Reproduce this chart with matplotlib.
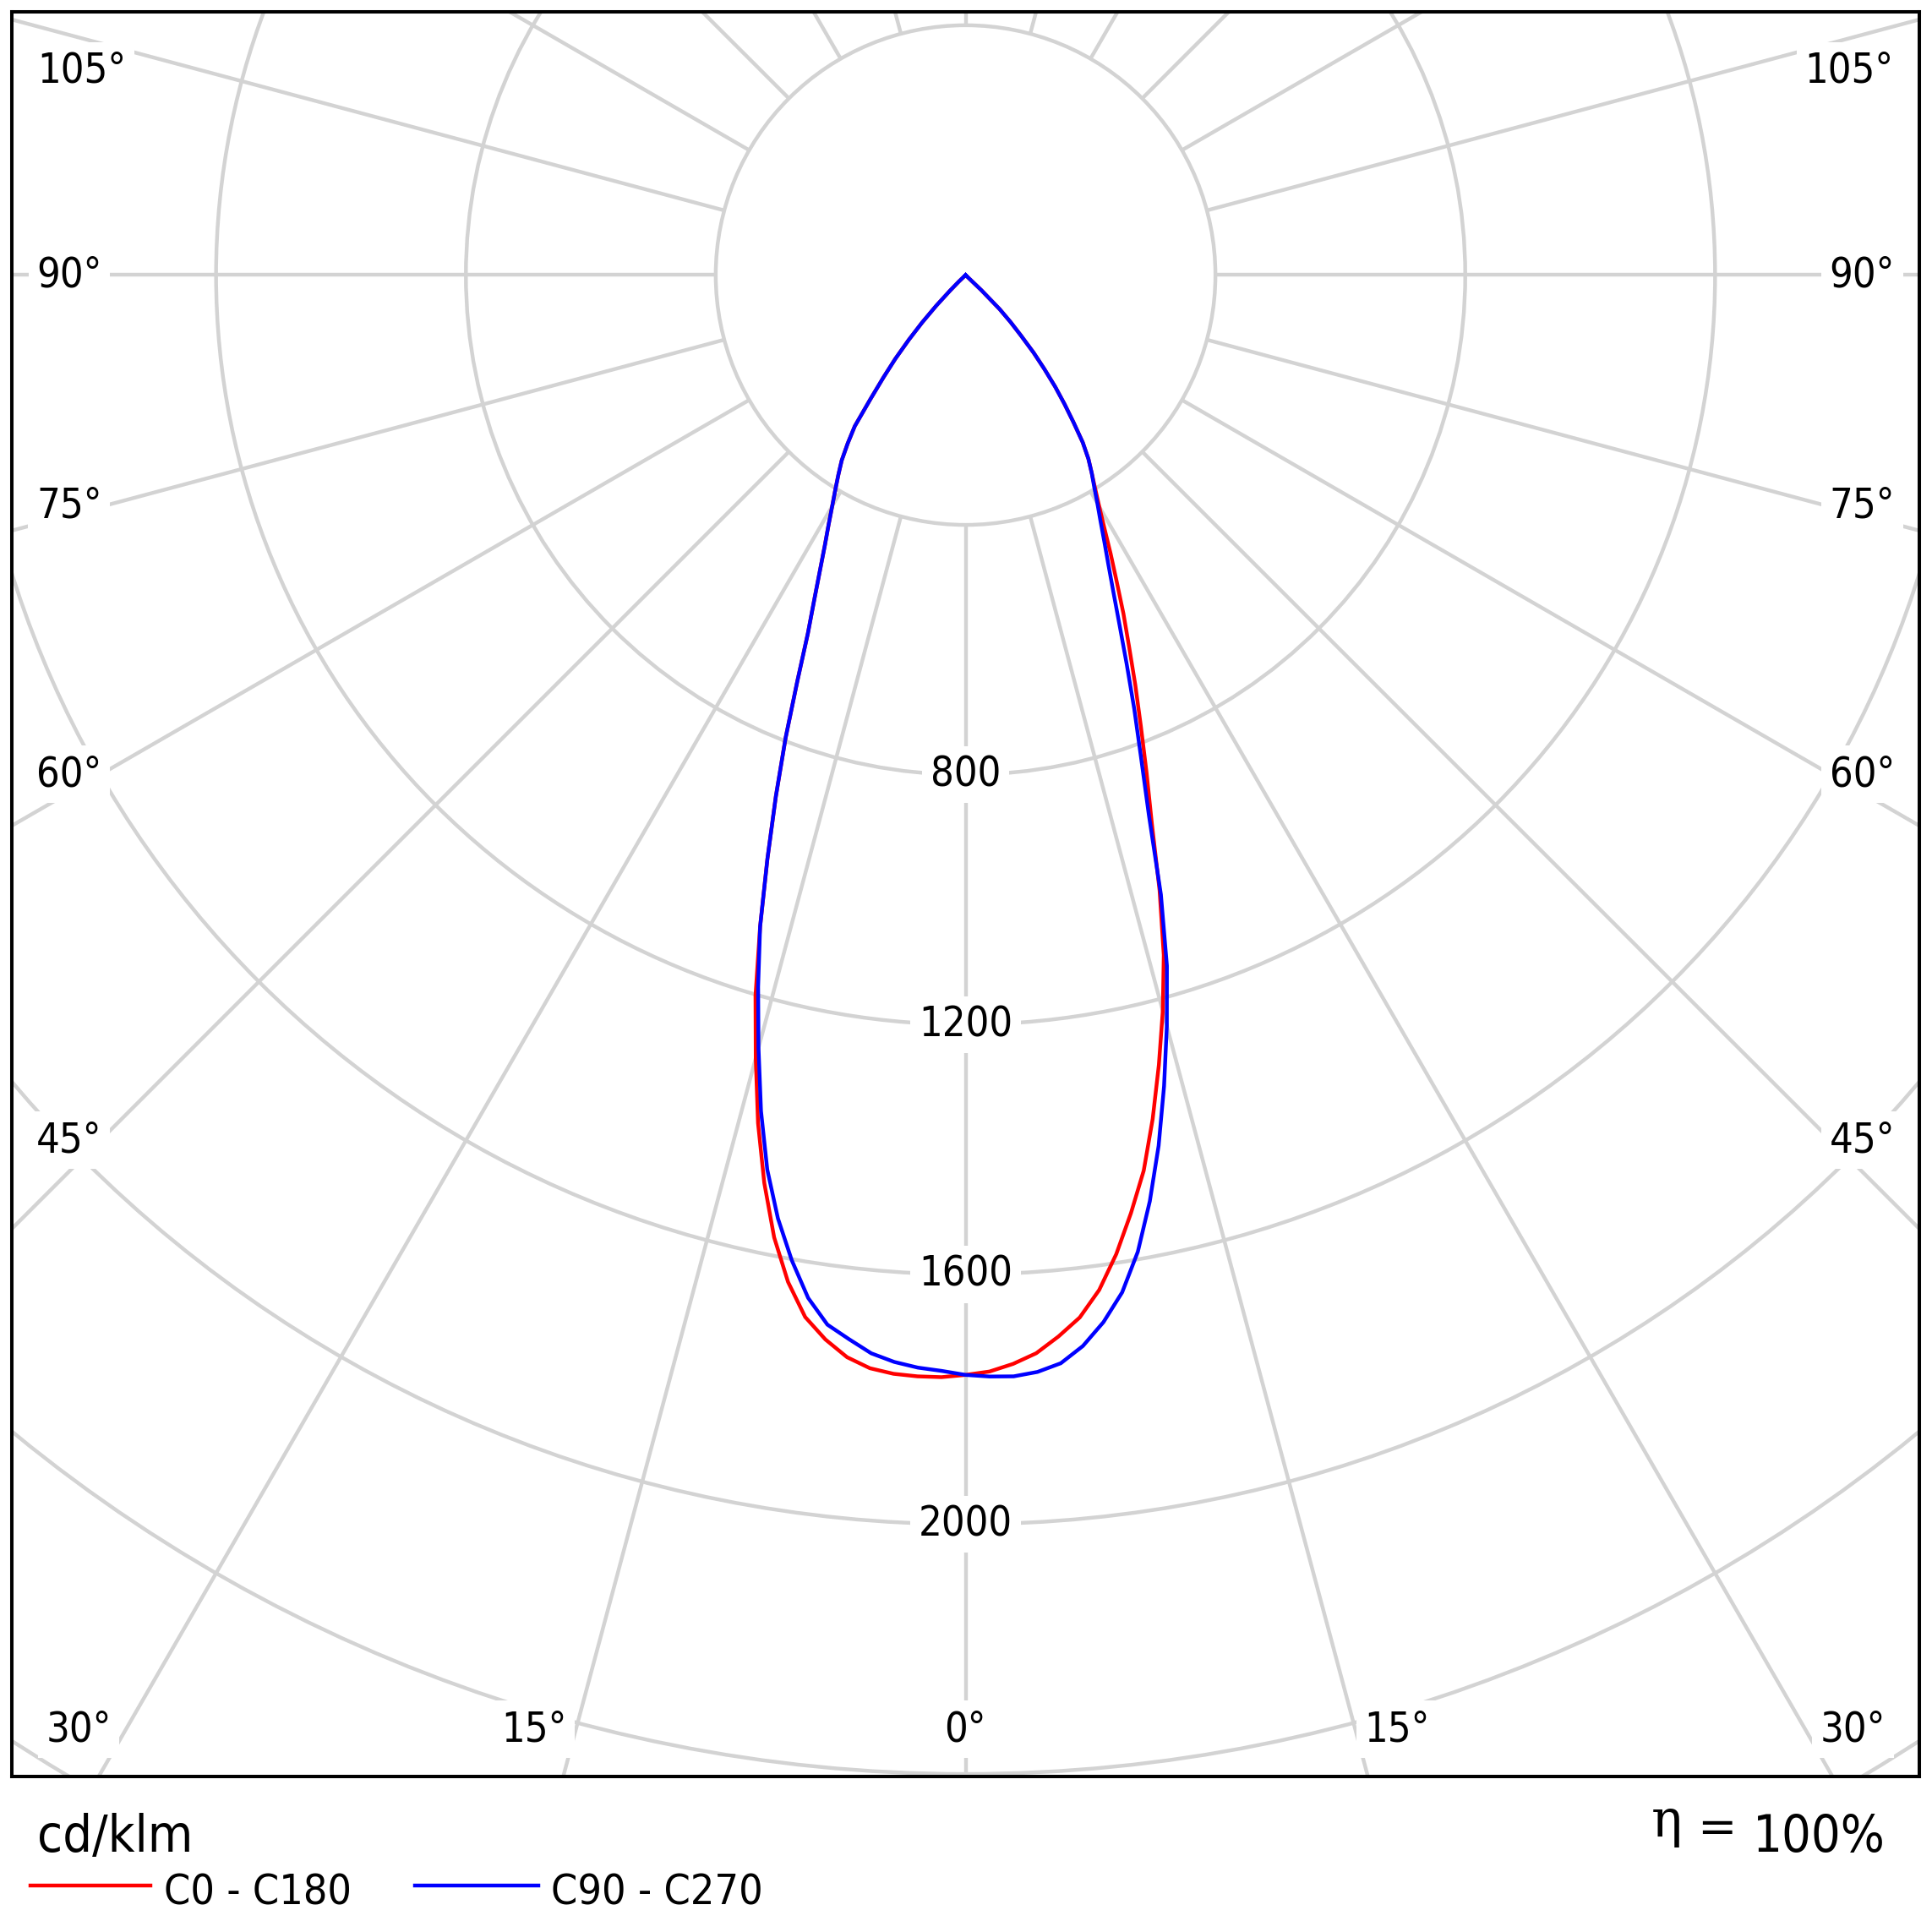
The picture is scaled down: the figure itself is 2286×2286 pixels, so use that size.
import numpy as np
import matplotlib
matplotlib.use("Agg")
import matplotlib.pyplot as plt
from matplotlib.patches import Circle
from matplotlib.lines import Line2D

plt.rcParams['font.family'] = ['DejaVu Sans']
plt.rcParams['font.stretch'] = 'condensed'

# gamma (deg from nadir) and luminous intensity in cd/klm
gamma = [0, 1.25, 2.5, 3.75, 5, 6.25, 7.5, 8.75, 10, 11.25,
         12.5, 13.75, 15, 16.25, 17.5, 18.75, 20, 21.25, 22.5, 23.75,
         25, 26.25, 27.5, 28.75, 30, 31.25, 32.5, 33.75, 35, 36.25,
         37.5, 38.75, 40, 41.25, 42.5, 43.75, 45, 46.25, 47.5]
c0 = [1761, 1756, 1745, 1730, 1706, 1679, 1639, 1586, 1525, 1462,
      1384, 1302, 1220, 1134, 1033, 928, 847, 774, 710, 650,
      598, 547, 503, 462, 428, 400, 376, 354, 327, 292,
      260, 229, 196, 165, 131, 104, 77, 35, 0]
c180 = [1761, 1765, 1765, 1763, 1757, 1743, 1719, 1688, 1637, 1571,
        1489, 1398, 1298, 1202, 1094, 987, 888, 795, 704, 627,
        573, 527, 488, 456, 427, 402, 379, 357, 329, 300,
        250, 210, 175, 138, 103, 68, 35, 15, 0]
c90 = [1761, 1764, 1765, 1760, 1749, 1725, 1691, 1648, 1588, 1512,
       1428, 1337, 1245, 1152, 1040, 913, 821, 745, 674, 612,
       560, 517, 481, 449, 422, 397, 376, 354, 327, 292,
       260, 229, 196, 165, 131, 104, 77, 35, 0]
c270 = [1761, 1755, 1751, 1744, 1733, 1714, 1695, 1657, 1602, 1540,
        1467, 1378, 1281, 1187, 1094, 987, 888, 795, 704, 627,
        573, 527, 488, 456, 427, 402, 379, 357, 329, 300,
        250, 210, 175, 138, 103, 68, 35, 15, 0]

rings = [400, 800, 1200, 1600, 2000, 2400, 2800]
ring_labels = [800, 1200, 1600, 2000]
spoke_angles = list(range(0, 360, 15))

GRID = '#d3d3d3'
FS = 35


def plane_xy(gam, left, right):
    g = np.radians(gam)
    left = np.asarray(left, float)
    right = np.asarray(right, float)
    x = np.concatenate([-(left * np.sin(g))[::-1], right * np.sin(g)])
    y = np.concatenate([-(left * np.cos(g))[::-1], -right * np.cos(g)])
    return x, y


fig = plt.figure(figsize=(22.86, 22.86), dpi=100)
ax = fig.add_axes([14 / 2286, 1 - 2102 / 2286, 2257 / 2286, 2088 / 2286])
ax.set_xlim(-1527, 1527)
ax.set_ylim(-2404, 421.5)
ax.set_xticks([])
ax.set_yticks([])
for sp in ax.spines.values():
    sp.set_linewidth(2.9)
    sp.set_color('black')
    sp.set_zorder(10)

# polar grid
for r in rings:
    ax.add_patch(Circle((0, 0), r, fill=False, ec=GRID, lw=3.2, zorder=1))
for a in spoke_angles:
    t = np.radians(a)
    ax.plot([rings[0] * np.sin(t), 5000 * np.sin(t)],
            [-rings[0] * np.cos(t), -5000 * np.cos(t)],
            color=GRID, lw=3.2, zorder=1, solid_capstyle='butt')

box = dict(boxstyle='square,pad=0.2', fc='white', ec='none')
for v in ring_labels:
    ax.text(0, -v, str(v), ha='center', va='center', fontsize=FS,
            bbox=box, zorder=3)

angle_labels = [
    ('105°', 0.0368, 0.9665), ('90°', 0.0301, 0.851), ('75°', 0.0301, 0.7203),
    ('60°', 0.0301, 0.568), ('45°', 0.0301, 0.3606), ('30°', 0.035, 0.0268),
    ('15°', 0.2738, 0.0268), ('0°', 0.4999, 0.0268),
]
for txt, xf, yf in angle_labels:
    ax.text(xf, yf, txt, transform=ax.transAxes, ha='center', va='center',
            fontsize=FS, bbox=box, zorder=3)
    if xf < 0.49:
        ax.text(1 - xf + 0.0001, yf, txt, transform=ax.transAxes, ha='center',
                va='center', fontsize=FS, bbox=box, zorder=3)

# curves
x, y = plane_xy(gamma, c180, c0)
ax.plot(x, y, color='#ff0000', lw=3.2, zorder=4, solid_joinstyle='round')
x, y = plane_xy(gamma, c270, c90)
ax.plot(x, y, color='#0000ff', lw=3.2, zorder=5, solid_joinstyle='round')

# footer
fig.text(0.0193, 0.0416, 'cd/klm', fontsize=44, ha='left', va='baseline')
fig.text(0.976, 0.0416, '100%', fontsize=44, ha='right', va='baseline')
fig.text(0.8625, 0.0494, 'η', fontsize=44, ha='center', va='baseline',
         family='DejaVu Serif', fontstretch='normal')
fig.text(0.8885, 0.0462, '=', fontsize=40, ha='center', va='baseline',
         fontstretch='normal')

fig.add_artist(Line2D([0.0158, 0.0779], [0.0241, 0.0241], color='#ff0000',
                      lw=3.2, transform=fig.transFigure))
fig.text(0.0849, 0.0144, 'C0 - C180', fontsize=36, ha='left', va='baseline')
fig.add_artist(Line2D([0.2148, 0.2787], [0.0241, 0.0241], color='#0000ff',
                      lw=3.2, transform=fig.transFigure))
fig.text(0.2852, 0.0144, 'C90 - C270', fontsize=36, ha='left', va='baseline')

fig.savefig('out.png', dpi=100, facecolor='white')
